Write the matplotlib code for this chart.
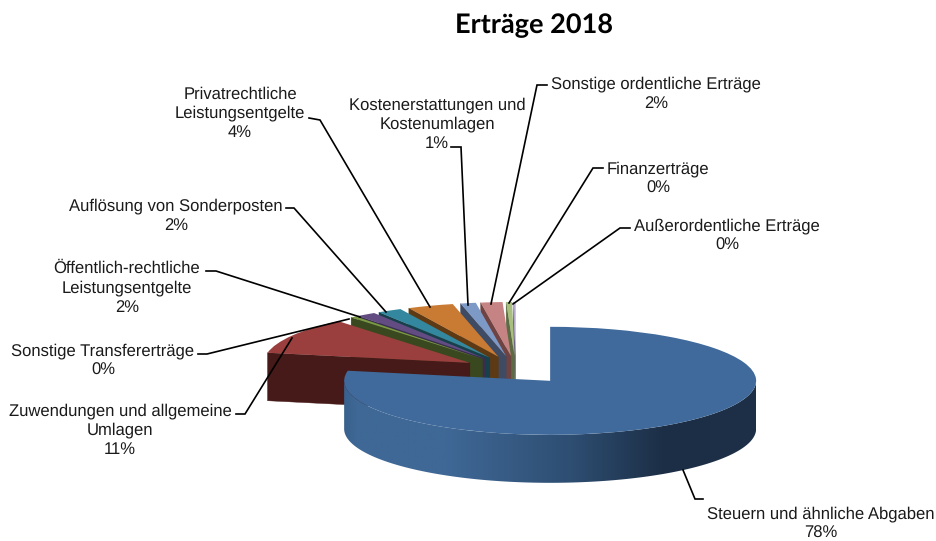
#!/usr/bin/env python3
# -*- coding: UTF-8 -*-
import numpy as np
import matplotlib
matplotlib.use('Agg')
import matplotlib.pyplot as plt
from matplotlib.patches import Polygon
from matplotlib.colors import to_rgb

# Chart data ##################################################################
names = ['Steuern und ähnliche Abgaben',
         'Zuwendungen und allgemeine\nUmlagen',
         'Sonstige Transfererträge',
         'Öffentlich-rechtliche\nLeistungsentgelte',
         'Auflösung von Sonderposten',
         'Privatrechtliche\nLeistungsentgelte',
         'Kostenerstattungen und\nKostenumlagen',
         'Sonstige ordentliche Erträge',
         'Finanzerträge',
         'Außerordentliche Erträge']
shares = [78.0, 11.0, 0.45, 1.5, 1.9, 3.6, 1.2, 1.7, 0.45, 0.2]

top_colors = ['#3F6A9B', '#9A3F3D', '#7A9A3F', '#634C82', '#33879E',
              '#C97A33', '#7D9AC6', '#C58483', '#A8BF7E', '#B3A8CC']
wall_colors = ['#3F6896', '#451A18', '#39481E', '#3B2D4F', '#173F4C',
               '#5E3A14', '#3F4A63', '#6E4342', '#5D6B45', '#6A6480']

# Layout in reference pixels ##################################################
W, H = 936, 541
CX, CY = 516, 370      # pie centre before the explosion
RX, RY = 206, 54       # squashed radius of the top face
DEPTH = 48             # height of the pie
EXPLODE = 0.26

label_pos = [(821, 523.5), (120, 430), (103, 360.5), (127, 288), (176, 215.5),
             (240, 113.5), (437, 124.5), (656, 93.5), (658, 178.5), (727, 235.5)]
leaders = [[(703, 499), (695, 499), (683, 470)],
           [(236, 414), (245, 414), (292, 338)],
           [(198, 354), (207, 354), (349, 319)],
           [(206, 271), (216, 271), (360, 317)],
           [(286, 208), (294, 208), (386, 312)],
           [(309, 118), (320, 120), (430, 307)],
           [(451, 147), (461, 147), (468, 305)],
           [(547, 85), (537, 85), (491, 304)],
           [(603, 168), (593, 168), (509, 303)],
           [(630, 228), (620, 228), (513, 304)]]

# gradient of the main slice wall, left to right
grad_pos = [0.0, 0.03, 0.25, 0.55, 0.78, 1.0]
grad_col = ['#3A618D', '#3F6896', '#3F6896', '#2E4E72', '#1C2E45', '#1E3048']

plt.rcParams['font.family'] = ['Liberation Sans', 'DejaVu Sans']
plt.rcParams['text.hinting'] = 'no_hinting'

fig = plt.figure(figsize=(W/100, H/100), dpi=100)
ax = fig.add_axes([0, 0, 1, 1])

wedges, _ = ax.pie(shares, explode=[EXPLODE]*len(shares), startangle=90,
                   counterclock=False, colors=top_colors, radius=1,
                   wedgeprops={'linewidth': 0})

depth = DEPTH/RY
n = len(wedges)

# Walls below each top face, back slices first ################################
for i, w in enumerate(wedges):
    z = 2*n if i == 0 else 2*(n-i)
    w.set_zorder(z+1)

    cx, cy = w.center
    t = np.radians(np.linspace(w.theta1, w.theta2, 361))
    wx = cx + w.r*np.cos(t)
    wy = cy + w.r*np.sin(t)

    # only radial sides that face the viewer
    if np.cos(t[0]) > 0.001:
        ax.fill([cx, wx[0], wx[0], cx], [cy, wy[0], wy[0]-depth, cy-depth],
                color=wall_colors[i], lw=0.3, zorder=z)
    if np.cos(t[-1]) < -0.001:
        ax.fill([cx, wx[-1], wx[-1], cx], [cy, wy[-1], wy[-1]-depth, cy-depth],
                color=wall_colors[i], lw=0.3, zorder=z)

    # outer arc, gradient image clipped to the front part
    front = np.sin(t) < 0
    if front.any():
        fx, fy = wx[front], wy[front]
        cols = np.array([to_rgb(c) for c in grad_col])
        f = np.linspace(0, 1, 512)
        img = np.column_stack([np.interp(f, grad_pos, cols[:, j]) for j in range(3)])
        im = ax.imshow(img[np.newaxis, :, :], aspect='auto', zorder=z,
                       extent=(fx.min(), fx.max(), (fy-depth).min(), fy.max()))
        clip = Polygon(np.column_stack([np.r_[fx, fx[::-1]],
                                        np.r_[fy, (fy-depth)[::-1]]]),
                       transform=ax.transData)
        im.set_clip_path(clip)

# pie() forces an equal aspect, the squashed look comes from the limits here
ax.set_aspect('auto')
ax.set_xlim(-CX/RX, (W-CX)/RX)
ax.set_ylim(-(H-CY)/RY, CY/RY)
ax.axis('off')

# Labels and leader lines, in pixel coordinates ###############################
ov = fig.add_axes([0, 0, 1, 1], zorder=5)
ov.set_xlim(0, W)
ov.set_ylim(H, 0)
ov.axis('off')

for name, share, pos, line in zip(names, shares, label_pos, leaders):
    ov.text(pos[0], pos[1], '%s\n%d%%' % (name, round(share)), ha='center',
            va='center', fontsize=12, color='#1a1a1a', linespacing=1.29)
    xs, ys = zip(*line)
    ov.plot(xs, ys, color='black', lw=1.2, solid_joinstyle='miter')

ov.text(534, 26, 'Erträge 2018', ha='center', va='center', fontsize=19.5,
        fontweight='bold', family=['Lato', 'DejaVu Sans'], color='black')

fig.savefig('out.png', dpi=100)
